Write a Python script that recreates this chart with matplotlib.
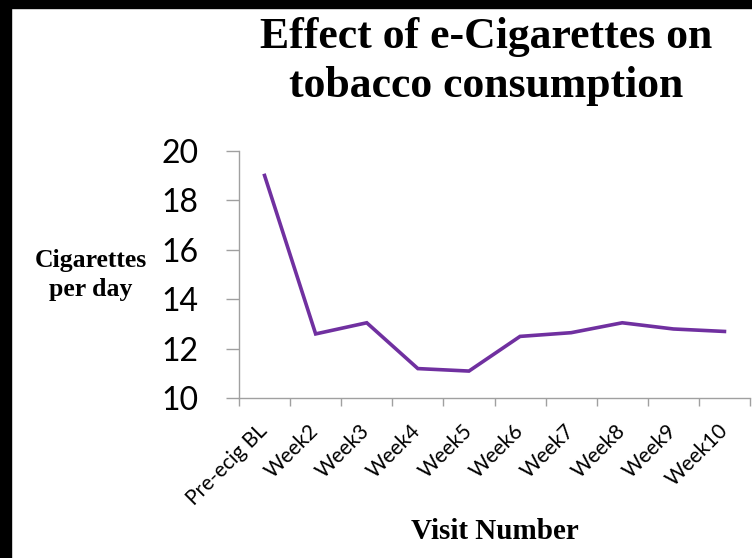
import matplotlib
matplotlib.use('Agg')
import matplotlib.pyplot as plt
from matplotlib.patches import Rectangle

# visit labels and mean cigarettes per day
visits = ['Pre-ecig BL', 'Week2', 'Week3', 'Week4', 'Week5',
          'Week6', 'Week7', 'Week8', 'Week9', 'Week10']
cigs_per_day = [19.0, 12.6, 13.05, 11.2, 11.1, 12.5, 12.65, 13.05, 12.8, 12.7]
yticks = [10, 12, 14, 16, 18, 20]
title_lines = ['Effect of e-Cigarettes on', 'tobacco consumption']

W, H = 752, 558
fig = plt.figure(figsize=(W / 100, H / 100), dpi=100)
fig.patch.set_facecolor('white')

# black frame strips on the left and top
fig.patches.append(Rectangle((0, 0), 11 / W, 1, transform=fig.transFigure,
                             color='black', zorder=0))
fig.patches.append(Rectangle((0, 1 - 8 / H), 1, 8 / H, transform=fig.transFigure,
                             color='black', zorder=0))

ax = fig.add_axes([239 / W, 1 - 398.3 / H, (750 - 239) / W, (398.3 - 150.7) / H])

x = list(range(len(visits)))
ax.plot(x, cigs_per_day, color='#7030A0', lw=2.6, solid_joinstyle='miter')

ax.set_xlim(-0.5, len(visits) - 0.5)
ax.set_ylim(10, 20)

axis_grey = '#a0a0a0'
for s in ['top', 'right']:
    ax.spines[s].set_visible(False)
for s in ['left', 'bottom']:
    ax.spines[s].set_color(axis_grey)
    ax.spines[s].set_linewidth(1.0)

ax.set_yticks(yticks)
ax.set_yticklabels([str(v) for v in yticks], fontfamily='Lato', fontsize=23)
ax.tick_params(axis='y', length=9.4, width=1, color=axis_grey, pad=19.5)

# category labels at centres, tick marks between categories
ax.set_xticks(x)
ax.set_xticklabels(visits, rotation=45, ha='right', va='center',
                   rotation_mode='anchor', fontfamily='Lato', fontsize=15)
ax.tick_params(axis='x', which='major', length=0, pad=21)
ax.set_xticks([i - 0.5 for i in range(len(visits) + 1)], minor=True)
ax.tick_params(axis='x', which='minor', length=6, width=1, color=axis_grey)

serif = 'Liberation Serif'
ax.set_ylabel('Cigarettes\nper day', rotation=0, fontfamily=serif,
              fontweight='bold', fontsize=18.5, ha='center', va='center',
              linespacing=1.35)
ax.yaxis.set_label_coords((91 - 239) / (750 - 239), (398.3 - 275) / 247.6)
ax.set_xlabel('Visit Number', fontfamily=serif, fontweight='bold',
              fontsize=21, va='baseline')
ax.xaxis.set_label_coords(0.5, (398.3 - 539) / 247.6)

for line, base in zip(title_lines, [48, 97]):
    fig.text(486 / W, 1 - base / H, line, fontfamily=serif, fontweight='bold',
             fontsize=31.5, ha='center', va='baseline')

fig.savefig('out.png', dpi=100)
